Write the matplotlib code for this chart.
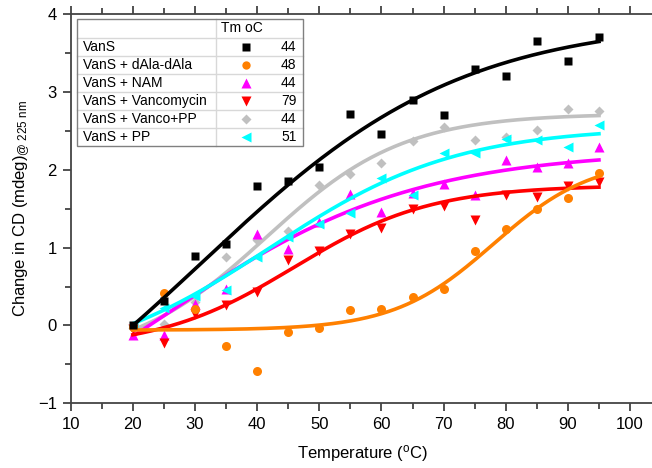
import numpy as np
import matplotlib
matplotlib.use('Agg')
import matplotlib.pyplot as plt
from matplotlib.ticker import MultipleLocator
from matplotlib.lines import Line2D
from matplotlib.patches import Rectangle

plt.rcParams['font.family'] = ['Liberation Sans', 'DejaVu Sans']
plt.rcParams['mathtext.fontset'] = 'custom'
plt.rcParams['mathtext.rm'] = 'Liberation Sans'
plt.rcParams['mathtext.it'] = 'Liberation Sans:italic'

# CD signal change vs temperature, one array per sample
temp = [20, 25, 30, 35, 40, 45, 50, 55, 60, 65, 70, 75, 80, 85, 90, 95]
vans = [0.0, 0.32, 0.89, 1.05, 1.79, 1.85, 2.03, 2.71, 2.46, 2.90, 2.70, 3.29, 3.21, 3.65, 3.40, 3.70]
vans_dala = [-0.02, 0.42, 0.21, -0.27, -0.59, -0.08, -0.03, 0.20, 0.21, 0.37, 0.47, 0.96, 1.24, 1.50, 1.64, 1.96]
vans_nam = [-0.12, -0.12, 0.28, 0.47, 1.17, 0.98, 1.33, 1.69, 1.46, 1.70, 1.82, 1.67, 2.13, 2.04, 2.08, 2.29]
vans_vanco = [-0.05, -0.23, 0.15, 0.26, 0.43, 0.84, 0.95, 1.17, 1.25, 1.49, 1.53, 1.36, 1.67, 1.65, 1.79, 1.84]
vans_vanco_pp = [-0.03, 0.02, 0.30, 0.88, 1.10, 1.21, 1.81, 1.95, 2.09, 2.37, 2.55, 2.38, 2.42, 2.51, 2.78, 2.76]
vans_pp = [0.0, 0.22, 0.38, 0.45, 0.88, 1.14, 1.30, 1.45, 1.89, 1.67, 2.21, 2.21, 2.40, 2.38, 2.29, 2.58]

# Boltzmann fit parameters (A1, A2, x0, dx) for each sample
fit_vans = (-2.33, 3.93, 31.0, 21.0)
fit_vans_dala = (-0.06, 2.15, 78.0, 8.0)
fit_vans_nam = (-2.0, 2.25, 25.0, 20.0)
fit_vans_vanco = (-0.3, 1.8, 46.0, 11.0)
fit_vans_vanco_pp = (-0.45, 2.72, 41.5, 11.0)
fit_vans_pp = (-0.56, 2.55, 42.0, 15.0)

labels = ['VanS', 'VanS + dAla-dAla', 'VanS + NAM', 'VanS + Vancomycin',
          'VanS + Vanco+PP', 'VanS + PP']
tm = [44, 48, 44, 79, 44, 51]


def boltzmann(x, a1, a2, x0, dx):
    return a2 + (a1 - a2) / (1 + np.exp((x - x0) / dx))


series = [vans, vans_dala, vans_nam, vans_vanco, vans_vanco_pp, vans_pp]
fits = [fit_vans, fit_vans_dala, fit_vans_nam, fit_vans_vanco, fit_vans_vanco_pp, fit_vans_pp]
colors = ['#000000', '#FF8000', '#FF00FF', '#FF0000', '#C0C0C0', '#00FFFF']
markers = ['s', 'o', '^', 'v', 'D', '<']
msizes = [6, 6.5, 7, 7, 5.5, 7]
draw_order = [4, 2, 5, 3, 1, 0]

W, H = 652, 468
fig = plt.figure(figsize=(W / 100, H / 100), dpi=100)
ax = fig.add_axes([70.7 / W, 1 - 403.3 / H, 584.2 / W, 389.3 / H])

tt = np.linspace(20, 95, 300)
for k, i in enumerate(draw_order):
    ax.plot(temp, series[i], linestyle='none', marker=markers[i], ms=msizes[i],
            color=colors[i], mec='none', zorder=2 + k)
    ax.plot(tt, boltzmann(tt, *fits[i]), color=colors[i], lw=2.6, zorder=2 + k)

ax.set_xlim(10, 104)
ax.set_ylim(-1, 4)
ax.xaxis.set_major_locator(MultipleLocator(10))
ax.xaxis.set_minor_locator(MultipleLocator(5))
ax.yaxis.set_major_locator(MultipleLocator(1))
ax.yaxis.set_minor_locator(MultipleLocator(0.5))
ax.tick_params(which='both', direction='out', top=True, right=False,
               labelsize=12, color='#333333', width=1.2, pad=4)
ax.tick_params(which='major', length=6)
ax.tick_params(which='minor', length=4)
ax.spines['right'].set_visible(False)
for s in ['left', 'bottom', 'top']:
    ax.spines[s].set_color('#444444')
    ax.spines[s].set_linewidth(1.3)

ax.set_xlabel('Temperature ($^{\\rm o}$C)', fontsize=12, labelpad=8)
ax.set_ylabel('Change in CD (mdeg)$_{\\rm @\\ 225\\ nm}$', fontsize=12, labelpad=4)


# legend drawn as a small table in pixel coordinates
def px(x, y):
    return x / W, 1 - y / H


x0, x1, xm = 77.3, 303.0, 215.7
y0, row_h = 19.0, 18.0
y_head = 37.7
y1 = y_head + row_h * len(labels)
fig.patches.append(Rectangle(px(x0, y1), (x1 - x0) / W, (y1 - y0) / H,
                             transform=fig.transFigure, fill=False,
                             edgecolor='#808080', lw=1.0, zorder=20))
for r in range(len(labels)):
    yy = y_head + r * row_h
    fig.lines.append(Line2D([x0 / W, x1 / W], [1 - yy / H] * 2,
                            transform=fig.transFigure, color='#d8d8d8', lw=1.0, zorder=19))
fig.lines.append(Line2D([xm / W] * 2, [1 - y0 / H, 1 - y1 / H],
                        transform=fig.transFigure, color='#d8d8d8', lw=1.0, zorder=19))
fig.text(*px(241.7, (y0 + y_head) / 2), 'Tm oC', fontsize=10, ha='center', va='center', zorder=21)
for r, lab in enumerate(labels):
    yc = y_head + (r + 0.5) * row_h
    fig.text(*px(83.3, yc), lab, fontsize=10, ha='left', va='center', zorder=21)
    fig.text(*px(296.5, yc), str(tm[r]), fontsize=10, ha='right', va='center', zorder=21)
    fig.lines.append(Line2D([246 / W], [1 - yc / H], transform=fig.transFigure,
                            marker=markers[r], ms=msizes[r] - 0.5, color=colors[r],
                            mec='none', linestyle='none', zorder=21))

fig.savefig('out.png', dpi=100)
